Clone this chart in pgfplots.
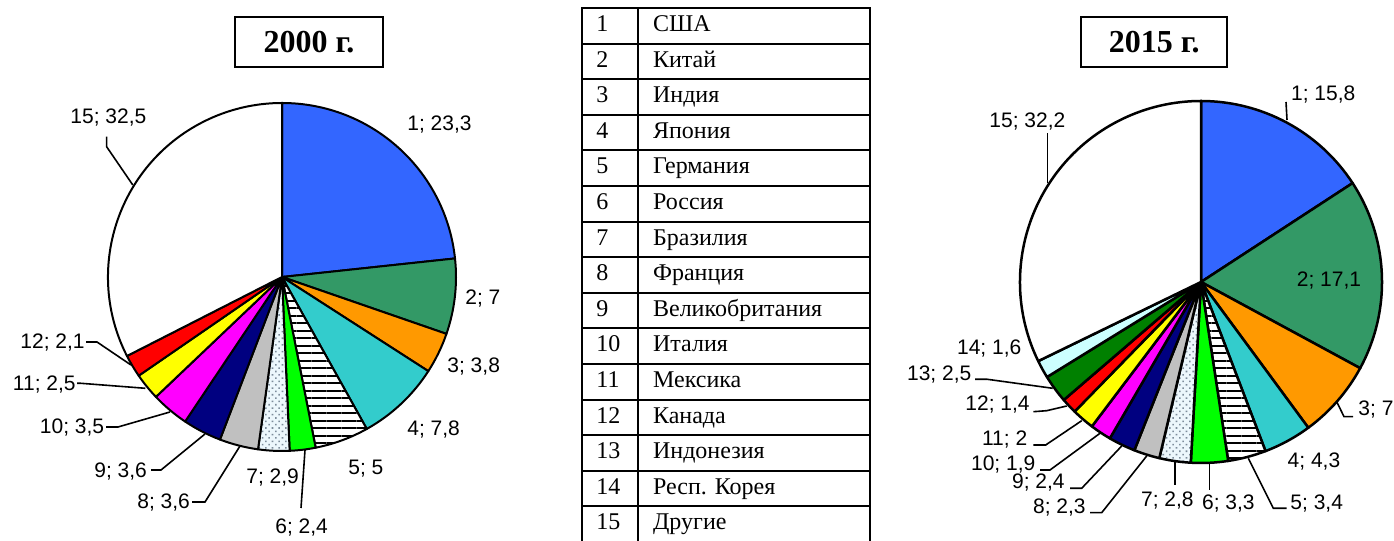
\documentclass[border=0pt]{standalone}
\usepackage{fontspec}
\setmainfont{Liberation Serif}
\newfontfamily\lblfont{Liberation Sans}
\usepackage{pgfplots}
\usepackage{pgfplotstable}
\pgfplotsset{compat=1.18}
\usetikzlibrary{patterns.meta}

% slice colours
\definecolor{c1}{RGB}{51,102,255}
\definecolor{c2}{RGB}{51,153,102}
\definecolor{c3}{RGB}{255,153,0}
\definecolor{c4}{RGB}{51,204,204}
\definecolor{c6}{RGB}{0,255,0}
\definecolor{c8}{RGB}{192,192,192}
\definecolor{c9}{RGB}{0,0,128}
\definecolor{c10}{RGB}{255,0,255}
\definecolor{c11}{RGB}{255,255,0}
\definecolor{c12}{RGB}{255,0,0}
\definecolor{c13}{RGB}{0,128,0}
\definecolor{c14}{RGB}{204,255,255}
\definecolor{dotbg}{RGB}{236,247,252}
\definecolor{dotfg}{RGB}{125,140,155}

\tikzset{
  slice1/.style={fill=c1},
  slice2/.style={fill=c2},
  slice3/.style={fill=c3},
  slice4/.style={fill=c4},
  slice5/.style={preaction={fill=white}, pattern={Lines[angle=0,distance=3.75bp,line width=1bp]}, pattern color=black},
  slice6/.style={fill=c6},
  slice7/.style={preaction={fill=dotbg}, pattern={Dots[angle=45,distance=2.35bp,radius=0.55bp]}, pattern color=dotfg},
  slice8/.style={fill=c8},
  slice9/.style={fill=c9},
  slice10/.style={fill=c10},
  slice11/.style={fill=c11},
  slice12/.style={fill=c12},
  slice13/.style={fill=c13},
  slice14/.style={fill=c14},
  slice15/.style={fill=white},
  lbl/.style={font=\lblfont\fontsize{10.5bp}{12bp}\selectfont, anchor=base west, inner sep=0pt},
  lead/.style={line width=0.8bp},
}

% shares, 2000
\pgfplotstableread{
id share
1 23.3
2 7
3 3.8
4 7.8
5 5
6 2.4
7 2.9
8 3.6
9 3.6
10 3.5
11 2.5
12 2.1
15 32.5
}\pieA

% shares, 2015
\pgfplotstableread{
id share
1 15.8
2 17.1
3 7
4 4.3
5 3.4
6 3.3
7 2.8
8 2.3
9 2.4
10 1.9
11 2
12 1.4
13 2.5
14 1.6
15 32.2
}\pieB

% #1 table, #2 radius (px), #3 outline width
\newcommand\drawpie[3]{%
  \pgfplotstablegetrowsof{#1}\pgfmathtruncatemacro\nrows{\pgfplotsretval-1}%
  \pgfmathsetlengthmacro\R{#2*0.5bp}%
  \def\cum{0}%
  \pgfplotsforeachungrouped \r in {0,...,\nrows}{%
    \pgfplotstablegetelem{\r}{id}\of{#1}\edef\sid{\pgfplotsretval}%
    \pgfplotstablegetelem{\r}{share}\of{#1}\edef\sv{\pgfplotsretval}%
    \pgfmathsetmacro\aS{90-3.6*\cum}%
    \pgfmathsetmacro\aE{90-3.6*(\cum+\sv)}%
    \edef\doslice{\noexpand\path[slice\sid, draw=black, line width=#3, line join=round]
      (axis cs:0,0) -- ++(\aS:\R) arc[start angle=\aS, end angle=\aE, radius=\R] -- cycle;}%
    \doslice
    \pgfmathsetmacro\cum{\cum+\sv}%
  }%
}

\pgfplotsset{pieaxis/.style={hide axis, clip=false, anchor=center,
  x=0.5bp, y=0.5bp, xmin=-300, xmax=300, ymin=-300, ymax=300}}

\begin{document}
\begin{tikzpicture}[x=0.5bp, y=0.5bp]
\useasboundingbox (0,0) rectangle (1394,541);

% ---- 2000 ----
\begin{axis}[pieaxis, at={(282,264)}]
  \drawpie{\pieA}{174}{1bp}
  \node[lbl] at (axis cs:125,146.5) {1; 23,3};
  \node[lbl] at (axis cs:183,-27.5) {2; 7};
  \node[lbl] at (axis cs:165,-95.5) {3; 3,8};
  \node[lbl] at (axis cs:125,-158.5) {4; 7,8};
  \node[lbl] at (axis cs:66,-197.5) {5; 5};
  \node[lbl] at (axis cs:-7,-257) {6; 2,4};
  \node[lbl] at (axis cs:-36,-207) {7; 2,9};
  \node[lbl] at (axis cs:-145,-232) {8; 3,6};
  \node[lbl] at (axis cs:-188,-200.5) {9; 3,6};
  \node[lbl] at (axis cs:-242.5,-157) {10; 3,5};
  \node[lbl] at (axis cs:-269.4,-113.5) {11; 2,5};
  \node[lbl] at (axis cs:-262,-72) {12; 2,1};
  \node[lbl] at (axis cs:-212,153) {15; 32,5};
  \draw[lead] (axis cs:-196,-65) -- (axis cs:-185,-65) -- (axis cs:-151,-88);
  \draw[lead] (axis cs:-204.8,-106.3) -- (axis cs:-201.2,-106.3) -- (axis cs:-136.6,-111.3);
  \draw[lead] (axis cs:-176,-150) -- (axis cs:-164,-150) -- (axis cs:-112,-135);
  \draw[lead] (axis cs:-131,-193) -- (axis cs:-121,-193) -- (axis cs:-77,-157);
  \draw[lead] (axis cs:-90,-225) -- (axis cs:-77,-225) -- (axis cs:-42,-169);
  \draw[lead] (axis cs:19,-231) -- (axis cs:23,-173);
  \draw[lead] (axis cs:-175.4,140.3) -- (axis cs:-175.4,130.3) -- (axis cs:-149.2,92);
\end{axis}

% ---- 2015 ----
\begin{axis}[pieaxis, at={(1201,259)}]
  \drawpie{\pieB}{181}{1.25bp}
  \node[lbl] at (axis cs:89.7,181.8) {1; 15,8};
  \node[lbl] at (axis cs:-212,154.5) {15; 32,2};
  \node[lbl] at (axis cs:95.5,-4.5) {2; 17,1};
  \node[lbl] at (axis cs:157,-133.8) {3; 7};
  \node[lbl] at (axis cs:86.3,-185.5) {4; 4,3};
  \node[lbl] at (axis cs:89,-227.2) {5; 3,4};
  \node[lbl] at (axis cs:0.7,-227.2) {6; 3,3};
  \node[lbl] at (axis cs:-60.3,-224.8) {7; 2,8};
  \node[lbl] at (axis cs:-168.3,-231.5) {8; 2,3};
  \node[lbl] at (axis cs:-189.3,-206.2) {9; 2,4};
  \node[lbl] at (axis cs:-230.3,-188.8) {10; 1,9};
  \node[lbl] at (axis cs:-219.3,-163.8) {11; 2};
  \node[lbl] at (axis cs:-236,-128.8) {12; 1,4};
  \node[lbl] at (axis cs:-294.3,-98.2) {13; 2,5};
  \node[lbl] at (axis cs:-244.3,-72.8) {14; 1,6};
  \draw[lead] (axis cs:86,162) -- (axis cs:85,180);
  \draw[lead] (axis cs:-153.7,99.3) -- (axis cs:-153.7,149.3);
  \draw[lead] (axis cs:135.7,-119.7) -- (axis cs:143,-134.7) -- (axis cs:152,-134.7);
  \draw[lead] (axis cs:47.3,-176.3) -- (axis cs:72.3,-226.3) -- (axis cs:85.7,-226.3);
  \draw[lead] (axis cs:8.3,-181.3) -- (axis cs:8.3,-208);
  \draw[lead] (axis cs:-26,-179.7) -- (axis cs:-26,-203);
  \draw[lead] (axis cs:-54.3,-174) -- (axis cs:-99.3,-230.7) -- (axis cs:-111,-230.7);
  \draw[lead] (axis cs:-79.3,-164) -- (axis cs:-119.3,-206.3) -- (axis cs:-131,-206.3);
  \draw[lead] (axis cs:-101,-151.3) -- (axis cs:-151,-188) -- (axis cs:-161,-188);
  \draw[lead] (axis cs:-119.3,-138.7) -- (axis cs:-155.3,-163) -- (axis cs:-167.7,-163);
  \draw[lead] (axis cs:-134.3,-124) -- (axis cs:-154.3,-128.7) -- (axis cs:-167.7,-129.7);
  \draw[lead] (axis cs:-148.3,-106.3) -- (axis cs:-213.7,-97.3) -- (axis cs:-226,-97.3);
\end{axis}

% ---- titles ----
\node[draw, line width=1bp, minimum width=74bp, minimum height=25.3bp, inner sep=0pt,
  font=\bfseries\fontsize{16bp}{18bp}\selectfont] at (309,499) {2000 г.};
\node[draw, line width=1bp, minimum width=73bp, minimum height=25.3bp, inner sep=0pt,
  font=\bfseries\fontsize{16bp}{18bp}\selectfont] at (1154.2,499) {2015 г.};

% ---- legend table ----
\foreach \k in {0,...,15}
  \draw[line width=1bp] (582,{533-35.6*\k}) -- (870,{533-35.6*\k});
\foreach \xx in {582,638,870}
  \draw[line width=1bp] (\xx,533.5) -- (\xx,-20);
\foreach \name [count=\k] in {США,Китай,Индия,Япония,Германия,Россия,Бразилия,Франция,
    Великобритания,Италия,Мексика,Канада,Индонезия,Респ. Корея,Другие}{
  \node[anchor=base west, inner sep=0pt, font=\fontsize{12bp}{14bp}\selectfont]
    at (596,{533-35.6*(\k-1)-23.5}) {\k};
  \node[anchor=base west, inner sep=0pt, font=\fontsize{12bp}{14bp}\selectfont]
    at (652.7,{533-35.6*(\k-1)-23.5}) {\name};
}
\end{tikzpicture}
\end{document}
